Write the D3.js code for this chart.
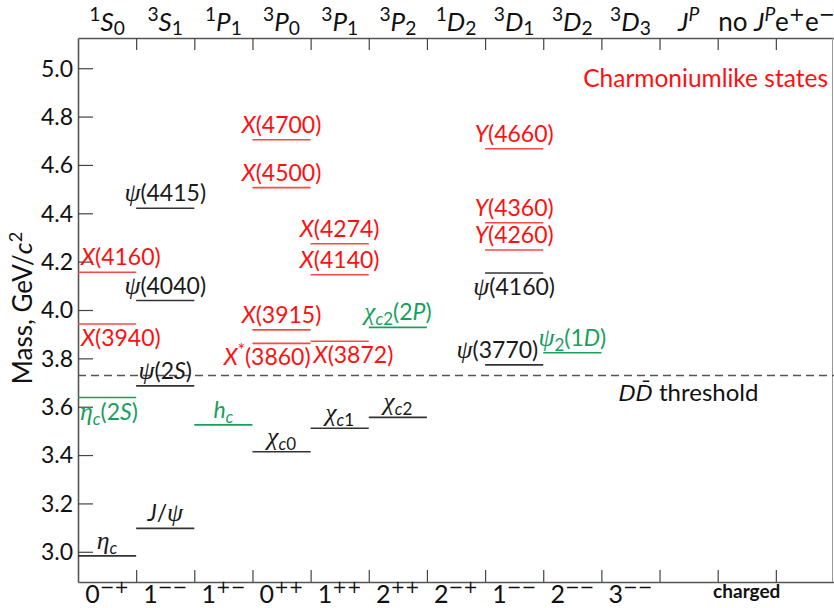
<!DOCTYPE html>
<html><head><meta charset="utf-8">
<script src="https://cdn.jsdelivr.net/npm/d3@7"></script>
<style>body{margin:0;background:#fff}svg{display:block}</style>
</head><body><svg id="chart" width="834" height="608"></svg>
<script>
// ---------- data ----------
const topLabels = ["^{1}$S$_{0}","^{3}$S$_{1}","^{1}$P$_{1}","^{3}$P$_{0}","^{3}$P$_{1}","^{3}$P$_{2}","^{1}$D$_{2}","^{3}$D$_{1}","^{3}$D$_{2}","^{3}$D$_{3}","$J$^{$P$}","no $J$^{$P$}","e^{+}e^{−}"];
const bottomLabels = ["0^{−+}","1^{−−}","1^{+−}","0^{++}","1^{++}","2^{++}","2^{−+}","1^{−−}","2^{−−}","3^{−−}","","charged",""];
const yTicks = [3.0,3.2,3.4,3.6,3.8,4.0,4.2,4.4,4.6,4.8,5.0];
const stateNames = [
  "$η$_{$c$}","$η$_{$c$}(2$S$)","$X$(3940)","$X$(4160)",
  "$J$/$ψ$","$ψ$(2$S$)","$ψ$(4040)","$ψ$(4415)",
  "$h$_{$c$}",
  "$χ$_{$c$0}","$X$^{*}(3860)","$X$(3915)","$X$(4500)","$X$(4700)",
  "$χ$_{$c$1}","$X$(3872)","$X$(4140)","$X$(4274)",
  "$χ$_{$c$2}","$χ$_{$c$2}(2$P$)",
  "$ψ$(3770)","$ψ$(4160)","$Y$(4260)","$Y$(4360)","$Y$(4660)",
  "$ψ$_{2}(1$D$)"
];
const stateColumns = [0,0,0,0, 1,1,1,1, 2, 3,3,3,3,3, 4,4,4,4, 5,5, 7,7,7,7,7, 8];
const stateMasses = [2.983,3.638,3.942,4.156, 3.097,3.686,4.039,4.421, 3.525,
  3.414,3.862,3.918,4.506,4.704, 3.511,3.871,4.146,4.274, 3.556,3.928,
  3.773,4.153,4.248,4.361,4.667, 3.823];
const stateKinds = ["conv","pred","exotic","exotic", "conv","conv","conv","conv", "pred",
  "conv","exotic","exotic","exotic","exotic", "conv","exotic","exotic","exotic", "conv","pred",
  "conv","conv","exotic","exotic","exotic", "pred"];
const thresholdMass = 3.729;
const thresholdLabel = "$D$$D̄$ threshold";
const titleText = "Charmoniumlike states";
const yLabel = "Mass, GeV/$c$^{2}";

// ---------- layout / style ----------
const X0 = 78, X1 = 834, Y0 = 38, Y1 = 582;
const nCols = 13;
const colors = {
  conv:   {line:"#333333", text:"#1a1a1a"},
  exotic: {line:"#ff4646", text:"#ff1010"},
  pred:   {line:"#1a9e5c", text:"#17a05d"}
};
const FONT = "Lato, 'DejaVu Sans', sans-serif";
const labelBelow = new Set(["$η$_{$c$}(2$S$)","$X$(3940)","$X$^{*}(3860)","$X$(3872)","$ψ$(4160)"]);
const labelAlign = {"$X$^{*}(3860)":["end",0], "$X$(3872)":["start",3], "$ψ$(3770)":["end",-5]};

const svg = d3.select("#chart").attr("font-family", FONT);
const x = d3.scaleLinear().domain([0, nCols]).range([X0, X1]);
const y = d3.scaleLinear().domain([2.875, 5.125]).range([Y1, Y0]);

function parseRich(str){
  const segs=[]; let italic=false, level=0; const stack=[];
  for(let i=0;i<str.length;i++){
    const c=str[i];
    if(c==='$'){italic=!italic;continue;}
    if((c==='_'||c==='^')&&str[i+1]==='{'){stack.push(level);level=(c==='_')?-1:1;i++;continue;}
    if(c==='}'&&stack.length){level=stack.pop();continue;}
    const greek=/[\u0370-\u03ff]/.test(c);
    const sign=/[+\u2212]/.test(c);
    const comb=/[\u0300-\u036f]/.test(c);
    const last=segs[segs.length-1];
    if(comb && last){ last.t+=c; last.comb=true; continue; }
    if(last&&last.italic===italic&&last.level===level&&last.greek===greek&&last.sign===sign) last.t+=c;
    else segs.push({t:c,italic,level,greek,sign});
  }
  return segs;
}
function addRich(sel, str, size, opt={}){
  const segs=parseRich(str);
  const supR = opt.supRaise ?? 0.42, subDrop = opt.subDrop ?? 0.2, scr = opt.script ?? 0.7;
  let cur=0;
  segs.forEach(s=>{
    const off = s.level===1 ? -supR*size : (s.level===-1 ? subDrop*size : 0);
    let fs = s.level ? size*scr : size;
    const ts = sel.append("tspan").text(s.t).attr("dy", off-cur)
      .attr("font-style", s.italic?"italic":"normal");
    if(s.greek){ ts.attr("font-family","'Liberation Serif', 'DejaVu Serif', serif"); fs*=1.12; }
    if(s.sign && opt.wideSigns){ ts.attr("font-family","'DejaVu Sans', sans-serif"); }
    if(s.comb){ ts.attr("font-family","'DejaVu Sans', sans-serif"); fs*=0.92; }
    ts.attr("font-size", fs);
    cur=off;
  });
  return sel;
}

// ---------- axes ----------
const axisColor = "#555";
const gL = svg.append("g").attr("transform",`translate(${X0},0)`)
  .call(d3.axisLeft(y).tickValues(yTicks).tickSize(-15).tickSizeOuter(0).tickPadding(5).tickFormat(d3.format(".1f")));
gL.selectAll("text").attr("font-size",23).attr("fill","#111").attr("font-family",FONT).attr("dy","0.34em");
const gT = svg.append("g").attr("transform",`translate(0,${Y0})`)
  .call(d3.axisTop(x).tickValues(d3.range(1,nCols)).tickSize(-12).tickSizeOuter(0).tickFormat(""));
const gB = svg.append("g").attr("transform",`translate(0,${Y1})`)
  .call(d3.axisBottom(x).tickValues(d3.range(1,nCols)).tickSize(-12).tickSizeOuter(0).tickFormat(""));
[gL,gT,gB].forEach(g=>{
  g.select(".domain").attr("stroke",axisColor).attr("stroke-width",1.6);
  g.selectAll(".tick line").attr("stroke","#444").attr("stroke-width",1.2);
});
svg.append("line").attr("x1",832.5).attr("x2",832.5).attr("y1",Y0).attr("y2",Y1)
  .attr("stroke","#999").attr("stroke-width",1);

// column labels
topLabels.forEach((t,i)=>{
  const tx = svg.append("text").attr("x", x(i+0.5)).attr("y", 31).attr("text-anchor","middle").attr("fill","#111");
  addRich(tx, t, 26, {supRaise:0.4, subDrop:0.16, script:0.74, wideSigns:true});
});
bottomLabels.forEach((t,i)=>{
  if(!t) return;
  const tx = svg.append("text").attr("x", x(i+0.5)).attr("y", t==="charged"?598:603).attr("text-anchor","middle").attr("fill","#111");
  if(t==="charged"){ tx.attr("font-weight","bold").attr("font-size",19).text(t); }
  else addRich(tx, t, 25, {supRaise:0.42, script:0.7, wideSigns:true});
});

// y label
const yl = svg.append("text").attr("transform",`translate(32,308) rotate(-90)`)
  .attr("text-anchor","middle").attr("fill","#111");
addRich(yl, yLabel, 26, {supRaise:0.4});

// threshold
svg.append("line").attr("x1",X0).attr("x2",X1).attr("y1",y(thresholdMass)).attr("y2",y(thresholdMass))
  .attr("stroke","#555").attr("stroke-width",1.5).attr("stroke-dasharray","8,5");
const th = svg.append("text").attr("x", x(10.5)).attr("y", y(thresholdMass)+25).attr("text-anchor","middle").attr("fill","#111");
addRich(th, thresholdLabel, 24);

// title
svg.append("text").attr("x", 828).attr("y", 87).attr("text-anchor","end")
  .attr("fill","#ff1010").attr("font-size",24.5).text(titleText);

// ---------- states ----------
const states = stateNames.map((n,i)=>({name:n, col:stateColumns[i], mass:stateMasses[i], kind:stateKinds[i]}));
svg.append("g").selectAll("line").data(states).join("line")
  .attr("x1",d=>x(d.col)).attr("x2",d=>x(d.col+1))
  .attr("y1",d=>y(d.mass)).attr("y2",d=>y(d.mass))
  .attr("stroke",d=>colors[d.kind].line).attr("stroke-width",1.6);

const lg = svg.append("g");
states.forEach(d=>{
  const below = labelBelow.has(d.name);
  const al = labelAlign[d.name];
  let anchor="middle", lx=x(d.col+0.5);
  if(al){ anchor=al[0]; lx = (al[0]==="end") ? x(d.col+1)+al[1] : x(d.col)+al[1]; }
  const t = lg.append("text").attr("x",lx).attr("y", y(d.mass) + (below?22:-7))
    .attr("text-anchor",anchor).attr("fill",colors[d.kind].text);
  addRich(t, d.name, 23, {subDrop:0.22, script:0.74});
  const bb = t.node().getBBox();
  if(bb.x < X0+2) t.attr("x", lx + (X0+2-bb.x));
});
</script></body></html>
